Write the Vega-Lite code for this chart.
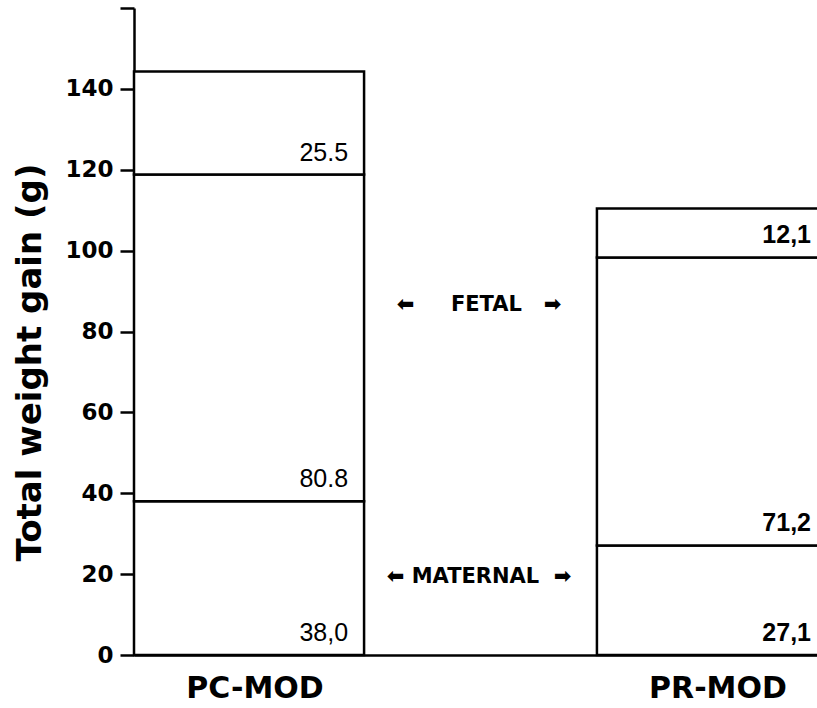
{
  "$schema": "https://vega.github.io/schema/vega-lite/v6.json",
  "width": 683,
  "height": 647,
  "autosize": {"type": "none"},
  "padding": {"left": 134, "top": 8, "right": 0, "bottom": 53},
  "background": "white",
  "config": {"view": {"stroke": null}, "axis": {"grid": false}},
  "datasets": {
    "bars": [
      {"group": "PC-MOD", "seg": 1, "part": "maternal", "value": 38.0, "label": "38,0"},
      {"group": "PC-MOD", "seg": 2, "part": "fetal", "value": 80.8, "label": "80.8"},
      {"group": "PC-MOD", "seg": 3, "part": "other", "value": 25.5, "label": "25.5"},
      {"group": "PR-MOD", "seg": 1, "part": "maternal", "value": 27.1, "label": "27,1"},
      {"group": "PR-MOD", "seg": 2, "part": "fetal", "value": 71.2, "label": "71,2"},
      {"group": "PR-MOD", "seg": 3, "part": "other", "value": 12.1, "label": "12,1"}
    ],
    "notes": [
      {"group": "PC-MOD", "y": 86.5, "text": "⬅\u00a0\u00a0\u00a0\u00a0\u00a0FETAL\u00a0\u00a0\u00a0➡"},
      {"group": "PC-MOD", "y": 19.3, "text": "⬅\u00a0MATERNAL\u00a0\u00a0➡"}
    ]
  },
  "layer": [
    {
      "data": {"name": "bars"},
      "transform": [
        {"stack": "value", "groupby": ["group"], "sort": [{"field": "seg"}], "as": ["v0", "v1"]}
      ],
      "mark": {"type": "bar", "fill": "white", "stroke": "black", "strokeWidth": 2.5},
      "encoding": {
        "x": {
          "field": "group",
          "type": "nominal",
          "sort": ["PC-MOD", "PR-MOD"],
          "scale": {"range": [0, 693], "paddingInner": 0.503, "paddingOuter": 0},
          "axis": {
            "title": null,
            "labelAngle": 0,
            "labelFont": "DejaVu Sans",
            "labelFontWeight": "bold",
            "labelFontSize": 30,
            "labelColor": "black",
            "labelPadding": 18,
            "labelOffset": 6,
            "ticks": false,
            "domainColor": "black",
            "domainWidth": 2.5
          }
        },
        "y": {
          "field": "v0",
          "type": "quantitative",
          "scale": {"domain": [0, 160], "nice": false},
          "axis": {
            "title": "Total weight gain (g)",
            "values": [0, 20, 40, 60, 80, 100, 120, 140, 160],
            "labelExpr": "datum.value == 160 ? '' : datum.label",
            "labelFont": "DejaVu Sans",
            "labelFontWeight": "bold",
            "labelFontSize": 23,
            "labelColor": "black",
            "labelPadding": 7,
            "tickSize": 14,
            "tickWidth": 2.5,
            "tickColor": "black",
            "domainColor": "black",
            "domainWidth": 2.5,
            "titleFont": "DejaVu Sans",
            "titleFontSize": 34,
            "titleFontWeight": "bold",
            "titleColor": "black",
            "titleX": -94,
            "titleY": 354,
            "titleAngle": 270,
            "titleBaseline": "alphabetic",
            "titleAlign": "center"
          }
        },
        "y2": {"field": "v1"}
      }
    },
    {
      "data": {"name": "bars"},
      "transform": [
        {"stack": "value", "groupby": ["group"], "sort": [{"field": "seg"}], "as": ["v0", "v1"]},
        {"filter": "datum.group == 'PC-MOD'"}
      ],
      "mark": {"type": "text", "align": "right", "baseline": "alphabetic", "dx": -16, "dy": -14, "font": "Liberation Sans", "fontSize": 25, "color": "black"},
      "encoding": {
        "x": {"field": "group", "type": "nominal", "sort": ["PC-MOD", "PR-MOD"], "bandPosition": 1},
        "y": {"field": "v0", "type": "quantitative"},
        "text": {"field": "label"}
      }
    },
    {
      "data": {"name": "bars"},
      "transform": [
        {"stack": "value", "groupby": ["group"], "sort": [{"field": "seg"}], "as": ["v0", "v1"]},
        {"filter": "datum.group == 'PR-MOD'"}
      ],
      "mark": {"type": "text", "align": "right", "baseline": "alphabetic", "dx": -16, "dy": -14, "font": "Liberation Sans", "fontWeight": "bold", "fontSize": 25, "color": "black"},
      "encoding": {
        "x": {"field": "group", "type": "nominal", "sort": ["PC-MOD", "PR-MOD"], "bandPosition": 1},
        "y": {"field": "v0", "type": "quantitative"},
        "text": {"field": "label"}
      }
    },
    {
      "data": {"name": "notes"},
      "mark": {"type": "text", "align": "center", "baseline": "middle", "dx": 115, "font": "DejaVu Sans", "fontWeight": "bold", "fontSize": 21, "color": "black"},
      "encoding": {
        "x": {"field": "group", "type": "nominal", "sort": ["PC-MOD", "PR-MOD"], "bandPosition": 1},
        "y": {"field": "y", "type": "quantitative"},
        "text": {"field": "text"}
      }
    }
  ]
}
